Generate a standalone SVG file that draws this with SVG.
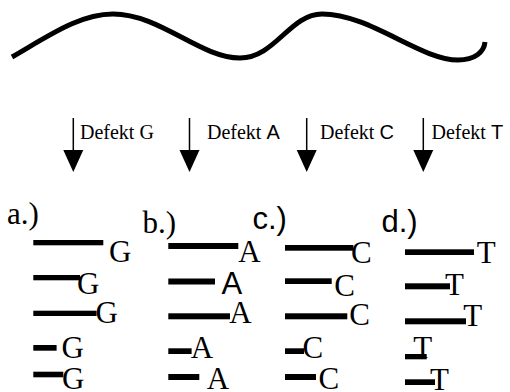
<svg xmlns="http://www.w3.org/2000/svg" width="510" height="392" viewBox="0 0 510 392">
<style>
text{font-family:'Liberation Serif','Times New Roman',Times,'DejaVu Serif',serif;fill:#000}
.a{font-family:'Liberation Sans',Arial,Helvetica,sans-serif}
.big{font-size:31px}
.lab{font-size:20px}
.bar{fill:#000}
.arr{stroke:#000;stroke-width:1.5;fill:none}
</style>
<rect width="510" height="392" fill="#fff"/>
<g id="strand">
<path d="M12,57 C50,35 80,14 113,14 C160,14 200,58 240,58 C275,58 290,14 322,14 C370,14 420,60 458,60 C475,60 484,52 485,42" fill="none" stroke="#000" stroke-width="5"/>
</g>
<g id="connectors">
<line class="arr" x1="73.3" y1="118" x2="73.3" y2="151"/>
<polygon points="63.3,150 83.3,150 73.3,172"/>
<line class="arr" x1="189.5" y1="118" x2="189.5" y2="151"/>
<polygon points="179.5,150 199.5,150 189.5,172"/>
<line class="arr" x1="306.7" y1="118" x2="306.7" y2="151"/>
<polygon points="296.7,150 316.7,150 306.7,172"/>
<line class="arr" x1="423.3" y1="118" x2="423.3" y2="151"/>
<polygon points="413.3,150 433.3,150 423.3,172"/>
</g>
<g id="labels">
<text class="lab" x="80" y="139" font-family="Liberation Serif">Defekt G</text>
<text class="lab" x="207" y="139">Defekt <tspan class="a">A</tspan></text>
<text class="lab" x="320" y="139">Defekt <tspan class="a">C</tspan></text>
<text class="lab" x="431.5" y="139">Defekt <tspan class="a">T</tspan></text>
</g>
<g id="col-a">
<text class="big" x="7" y="224">a.)</text>
<rect class="bar" x="33.3" y="240" width="70" height="5.3"/>
<text class="big" x="109" y="262">G</text>
<rect class="bar" x="33.3" y="275" width="46.7" height="5.3"/>
<text class="big" x="77" y="294">G</text>
<rect class="bar" x="33.3" y="310.7" width="63.3" height="5.3"/>
<text class="big" x="95.5" y="323">G</text>
<rect class="bar" x="33.3" y="345" width="23.3" height="5.7"/>
<text class="big" x="61.5" y="358">G</text>
<rect class="bar" x="33.3" y="371.7" width="30" height="5.6"/>
<text class="big" x="62" y="389">G</text>
</g>
<g id="col-b">
<text class="big" x="142.5" y="233">b.)</text>
<rect class="bar" x="168.3" y="243" width="70" height="6"/>
<text class="big" x="238.3" y="262">A</text>
<rect class="bar" x="168.3" y="278.5" width="46.7" height="6"/>
<text class="a big" x="221.5" y="294">A</text>
<rect class="bar" x="168.3" y="313.3" width="61.7" height="6"/>
<text class="big" x="229.3" y="323">A</text>
<rect class="bar" x="168.3" y="348.3" width="23.3" height="5.7"/>
<text class="big" x="190.7" y="358">A</text>
<rect class="bar" x="168.3" y="374" width="31" height="6"/>
<text class="big" x="206.7" y="389">A</text>
</g>
<g id="col-c">
<text class="a big" x="252.5" y="229">c.)</text>
<rect class="bar" x="285" y="245" width="68.3" height="5.7"/>
<text class="big" x="351" y="262.5">C</text>
<rect class="bar" x="285" y="278.3" width="46.7" height="5.7"/>
<text class="big" x="334.3" y="295.5">C</text>
<rect class="bar" x="285" y="313.3" width="62.3" height="6"/>
<text class="big" x="349.3" y="325">C</text>
<rect class="bar" x="285" y="348.3" width="19" height="5.7"/>
<text class="big" x="302.6" y="357.5">C</text>
<rect class="bar" x="285" y="374" width="31" height="6"/>
<text class="big" x="318.6" y="389">C</text>
</g>
<g id="col-d">
<text class="a big" x="381.5" y="232">d.)</text>
<rect class="bar" x="405" y="249.3" width="69" height="5.7"/>
<text class="big" x="476.7" y="263">T</text>
<rect class="bar" x="405" y="283.3" width="45" height="6"/>
<text class="big" x="445" y="295">T</text>
<rect class="bar" x="405" y="318.3" width="61" height="6"/>
<text class="big" x="463.3" y="326">T</text>
<rect class="bar" x="405" y="354" width="21.7" height="5.3"/>
<text class="big" x="413.3" y="358">T</text>
<rect class="bar" x="405" y="379.3" width="30" height="5.7"/>
<text class="big" x="430" y="390">T</text>
</g>
</svg>
